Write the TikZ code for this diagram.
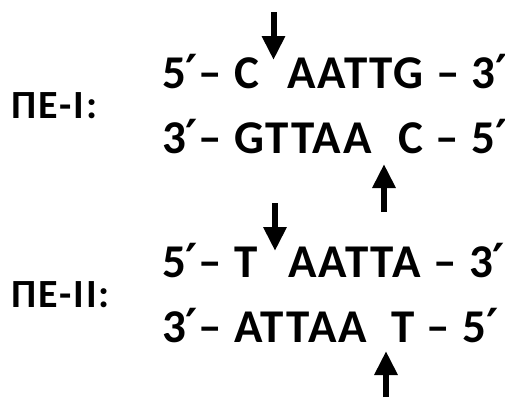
\documentclass[tikz,border=0pt]{standalone}
\usepackage{fontspec}
\setmainfont{Carlito}[LetterSpace=4]
\newfontfamily\primefont{DejaVu Sans}
\newcommand\prm{{\primefont ′}}
\usetikzlibrary{arrows.meta}

\begin{document}
\begin{tikzpicture}[x=1pt, y=-1pt,
	every node/.style={inner sep=0pt, outer sep=0pt, anchor=base west},
	strand/.style={font=\fontsize{47}{47}\selectfont\bfseries},
	enzyme/.style={font=\fontsize{40}{40}\selectfont\bfseries},
	cut/.style={line width=6pt, -{Triangle[width=22pt,length=24pt]}}]
	\useasboundingbox (0,0) rectangle (505,397);
	% enzyme I
	\node[enzyme] (pe1) at (12,118) {ПЕ-I:};
	\node[strand] (s1a) at (162,88) {5\prm– C};
	\node[strand] (s1b) at (287,88) {AATTG – 3\prm};
	\node[strand] (s2a) at (162,153) {3\prm– GTTAA};
	\node[strand] (s2b) at (398,153) {C – 5\prm};
	\coordinate (d1s) at (273.5,12);  \coordinate (d1e) at (273.5,60);
	\coordinate (u1s) at (384,212);   \coordinate (u1e) at (384,164);
	\draw[cut] (d1s) -- (d1e);
	\draw[cut] (u1s) -- (u1e);
	% enzyme II
	\node[enzyme] (pe2) at (12,307) {ПЕ-II:};
	\node[strand] (s3a) at (162,277) {5\prm– T};
	\node[strand] (s3b) at (288,277) {AATTA – 3\prm};
	\node[strand] (s4a) at (162,342) {3\prm– ATTAA};
	\node[strand] (s4b) at (391,342) {T – 5\prm};
	\coordinate (d2s) at (275,203);   \coordinate (d2e) at (275,251);
	\coordinate (u2s) at (386,397);   \coordinate (u2e) at (386,351);
	\draw[cut] (d2s) -- (d2e);
	\draw[cut] (u2s) -- (u2e);
\end{tikzpicture}
\end{document}
